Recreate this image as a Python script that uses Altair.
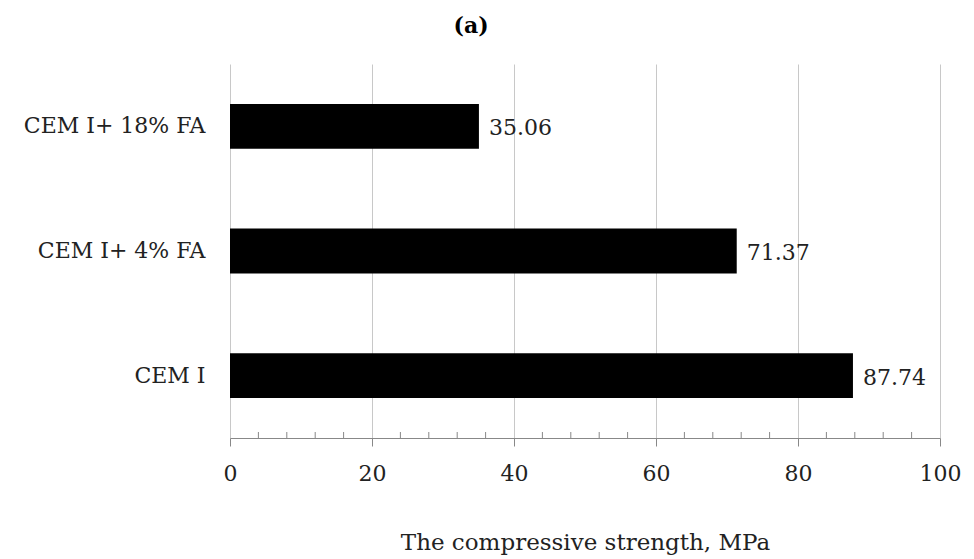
import altair as alt
import pandas as pd

categories = ["CEM I+ 18% FA", "CEM I+ 4% FA", "CEM I"]
strengths = [35.06, 71.37, 87.74]
x_ticks = [0, 20, 40, 60, 80, 100]
minor_ticks = [4, 8, 12, 16, 24, 28, 32, 36, 44, 48, 52, 56, 64, 68, 72, 76, 84, 88, 92, 96]

df = pd.DataFrame({
    "category": categories,
    "strength": strengths,
    "label": [f"{v:.2f}" for v in strengths],
})
minor_df = pd.DataFrame({"v": minor_ticks})

W, H = 710, 374
FONT = "DejaVu Serif"
TXT = "#222222"

x_scale = alt.Scale(domain=[0, 100], nice=False, zero=True)
y_scale = alt.Scale(paddingInner=0.64, paddingOuter=0.32)

bars = alt.Chart(df).mark_bar(color="black").encode(
    x=alt.X("strength:Q", scale=x_scale, axis=alt.Axis(
        values=x_ticks, title="The compressive strength, MPa", grid=True,
        gridColor="#c8c8c8", gridWidth=1, domainColor="#888888", tickColor="#888888",
        tickSize=8, labelPadding=17, labelFlush=False, labelFont=FONT, labelFontSize=22,
        labelColor=TXT, titleFont=FONT, titleFontSize=23, titleFontWeight="normal",
        titleColor=TXT, titlePadding=47)),
    y=alt.Y("category:N", sort=categories, scale=y_scale, axis=alt.Axis(
        title=None, ticks=False, domain=False, grid=False, labelFont=FONT,
        labelFontSize=22, labelColor=TXT, labelPadding=25, labelLimit=0)),
)

text = alt.Chart(df).mark_text(align="left", baseline="middle", dx=10, dy=2, font=FONT,
                               fontSize=22, color=TXT).encode(
    x=alt.X("strength:Q", scale=x_scale),
    y=alt.Y("category:N", sort=categories, scale=y_scale),
    text="label:N",
)

minor = alt.Chart(minor_df).mark_rule(color="#888888").encode(
    x=alt.X("v:Q", scale=x_scale),
    y=alt.value(H),
    y2=alt.value(H - 6),
)

chart = alt.layer(bars, minor, text).properties(
    width=W, height=H,
    title=alt.TitleParams("(a)", font=FONT, fontSize=22, fontWeight="bold", color="black",
                          anchor="middle", dx=-114, offset=26),
    autosize=alt.AutoSizeParams(type="none"),
    padding={"left": 230, "top": 64, "right": 34, "bottom": 121},
).configure(background="white").configure_view(strokeWidth=0, stroke="transparent")

chart.save("out.html", embed_options={"renderer": "svg", "actions": False})
